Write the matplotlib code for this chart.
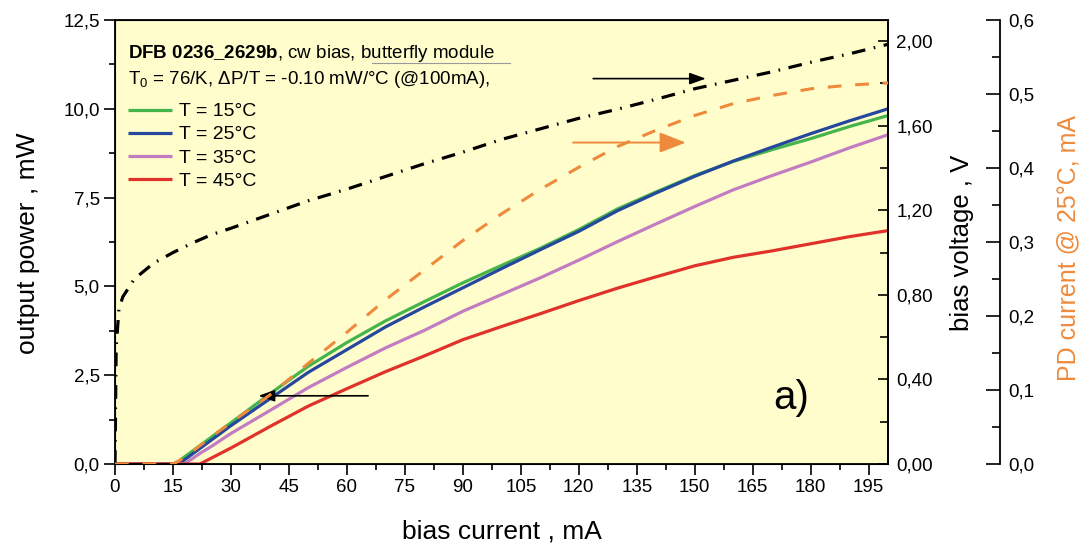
import numpy as np
import matplotlib
matplotlib.use("Agg")
import matplotlib.pyplot as plt
from matplotlib.ticker import MultipleLocator, FuncFormatter
from matplotlib.lines import Line2D

plt.rcParams["font.family"] = ["Liberation Sans", "DejaVu Sans"]
plt.rcParams["mathtext.fontset"] = "custom"
plt.rcParams["mathtext.rm"] = "Liberation Sans"
plt.rcParams["mathtext.bf"] = "Liberation Sans:bold"
plt.rcParams["mathtext.it"] = "Liberation Sans:italic"

# bias current grid, mA
current = [0, 15, 16.5, 18, 20, 22, 25, 30, 40, 50, 60, 70, 80, 90, 100,
           110, 120, 130, 140, 150, 160, 170, 180, 190, 200]
# output power, mW
p_15 = [0, 0, 0.08, 0.2, 0.36, 0.52, 0.76, 1.16, 1.97, 2.75, 3.42, 4.03, 4.57,
        5.1, 5.59, 6.07, 6.6, 7.18, 7.66, 8.12, 8.52, 8.85, 9.16, 9.5, 9.81]
p_25 = [0, 0, 0, 0.12, 0.28, 0.44, 0.68, 1.08, 1.83, 2.58, 3.22, 3.86, 4.42,
        4.96, 5.5, 6.03, 6.55, 7.13, 7.63, 8.1, 8.53, 8.92, 9.3, 9.66, 10.0]
p_35 = [0, 0, 0, 0.01, 0.15, 0.3, 0.5, 0.86, 1.5, 2.15, 2.72, 3.27, 3.76,
        4.3, 4.77, 5.24, 5.74, 6.26, 6.76, 7.25, 7.72, 8.12, 8.5, 8.9, 9.27]
p_45 = [0, 0, 0, 0, 0, 0, 0.17, 0.45, 1.05, 1.63, 2.12, 2.6, 3.04,
        3.5, 3.87, 4.23, 4.6, 4.95, 5.27, 5.58, 5.82, 6.0, 6.2, 6.4, 6.57]
# PD current @ 25 C, mA
pd_25 = [0, 0, 0.004, 0.01, 0.017, 0.025, 0.037, 0.056, 0.093, 0.136, 0.178,
         0.222, 0.262, 0.302, 0.338, 0.371, 0.401, 0.429, 0.451, 0.471, 0.487,
         0.498, 0.507, 0.512, 0.515]
# bias voltage, V
v_current = [0, 0.3, 1, 2, 5, 10, 15, 20, 25, 30, 40, 50, 60, 70, 80, 90, 100,
             110, 120, 130, 140, 150, 160, 170, 180, 190, 200]
v_bias = [0, 0.55, 0.73, 0.79, 0.875, 0.95, 1.0, 1.045, 1.085, 1.115, 1.18,
          1.245, 1.30, 1.36, 1.42, 1.475, 1.535, 1.585, 1.635, 1.678, 1.725,
          1.775, 1.815, 1.855, 1.9, 1.94, 1.985]

labels = ["T = 15°C", "T = 25°C", "T = 35°C", "T = 45°C"]
colors = ["#45B54B", "#25479C", "#C27DC2", "#E0322B"]
orange = "#EE8A3C"
FS = 13.5

fig = plt.figure(figsize=(10.91, 5.52), dpi=100)
ax = fig.add_axes([115 / 1091, 1 - 464 / 552, 773 / 1091, 444 / 552])
ax.set_facecolor("#FFFDCC")

for p, c, lab in zip([p_15, p_25, p_35, p_45], colors, labels):
    ax.plot(current, p, color=c, lw=2.3, label=lab, solid_capstyle="butt")

ax.set_xlim(0, 200)
ax.set_ylim(0, 12.5)
ax.xaxis.set_major_locator(MultipleLocator(15))
ax.xaxis.set_minor_locator(MultipleLocator(7.5))
ax.yaxis.set_major_locator(MultipleLocator(2.5))
ax.yaxis.set_minor_locator(MultipleLocator(1.25))
ax.yaxis.set_major_formatter(FuncFormatter(lambda v, _: f"{v:.1f}".replace(".", ",")))
ax.tick_params(which="major", length=8, width=1.2, labelsize=FS, pad=3)
ax.tick_params(which="minor", length=4.5, width=1.2)
ax.tick_params(axis="y", which="both", right=False)
for s in ax.spines.values():
    s.set_linewidth(1.3)

# bias voltage axis
ax2 = ax.twinx()
ax2.plot(v_current, v_bias, color="black", lw=2.3,
         linestyle=(0, (4.3, 2.7, 0.5, 2.7)))
ax2.set_ylim(0, 2.1)
ax2.yaxis.set_major_locator(MultipleLocator(0.4))
ax2.yaxis.set_minor_locator(MultipleLocator(0.2))
ax2.yaxis.set_major_formatter(FuncFormatter(lambda v, _: f"{v:.2f}".replace(".", ",")))
ax2.tick_params(which="both", direction="in", width=1.2, labelsize=FS, pad=6)
ax2.tick_params(which="major", length=7)
ax2.tick_params(which="minor", length=6)
ax2.spines["right"].set_linewidth(1.3)

# PD current axis
ax3 = ax.twinx()
ax3.plot(current, pd_25, color=orange, lw=2.2, linestyle=(0, (4.5, 4.5)))
ax3.set_ylim(0, 0.6)
ax3.spines["right"].set_position(("axes", 1.145))
for k in ["left", "top", "bottom"]:
    ax3.spines[k].set_visible(False)
ax3.spines["right"].set_linewidth(1.3)
ax3.yaxis.set_major_locator(MultipleLocator(0.1))
ax3.yaxis.set_minor_locator(MultipleLocator(0.05))
ax3.yaxis.set_major_formatter(FuncFormatter(lambda v, _: f"{v:.1f}".replace(".", ",")))
ax3.tick_params(which="both", direction="in", width=1.2, labelsize=FS, pad=6)
ax3.tick_params(which="major", length=10)
ax3.tick_params(which="minor", length=6)

# arrows
ax.annotate("", xy=(36.4, 1.92), xytext=(66.2, 1.92),
            arrowprops=dict(arrowstyle="-|>,head_length=0.7,head_width=0.25",
                            color="black", lw=1.2, mutation_scale=14))
ax.annotate("", xy=(153.6, 10.85), xytext=(123, 10.85),
            arrowprops=dict(arrowstyle="-|>,head_length=0.7,head_width=0.25",
                            color="black", lw=1.2, mutation_scale=14))
ax.annotate("", xy=(148.4, 9.05), xytext=(117.8, 9.05),
            arrowprops=dict(arrowstyle="-|>,head_length=0.9,head_width=0.35",
                            color=orange, lw=1.4, mutation_scale=18))

# header text and legend
ax.text(0.0168, 0.915, r"$\mathbf{DFB\ 0236\_2629b}$, cw bias, butterfly module",
        transform=ax.transAxes, fontsize=FS, va="baseline", ha="left")
ax.add_line(Line2D([0.332, 0.511], [0.904, 0.904], transform=ax.transAxes,
                   color="#999999", lw=0.8))
ax.text(0.0168, 0.855, r"T$_0$ = 76/K, ΔP/T = -0.10 mW/°C (@100mA),",
        transform=ax.transAxes, fontsize=FS, va="baseline", ha="left")
ax.legend(loc="upper left", bbox_to_anchor=(0.0168, 0.8135), frameon=False,
          fontsize=14, handlelength=2.25, handletextpad=0.35, labelspacing=0.28,
          borderpad=0, borderaxespad=0)

ax.text(0.875, 0.148, "a)", transform=ax.transAxes, fontsize=29,
        ha="center", va="center")

# axis labels
fig.text(28 / 1091, 1 - 243 / 552, "output power , mW", rotation=90,
         fontsize=19, ha="center", va="center")
fig.text(502 / 1091, 1 - 531 / 552, "bias current , mA", fontsize=19,
         ha="center", va="center")
fig.text(962 / 1091, 1 - 243 / 552, "bias voltage , V", rotation=90,
         fontsize=18.5, ha="center", va="center")
fig.text(1068 / 1091, 1 - 248 / 552, "PD current @ 25°C, mA", rotation=90,
         fontsize=18, ha="center", va="center", color=orange)

fig.savefig("out.png", dpi=100)
